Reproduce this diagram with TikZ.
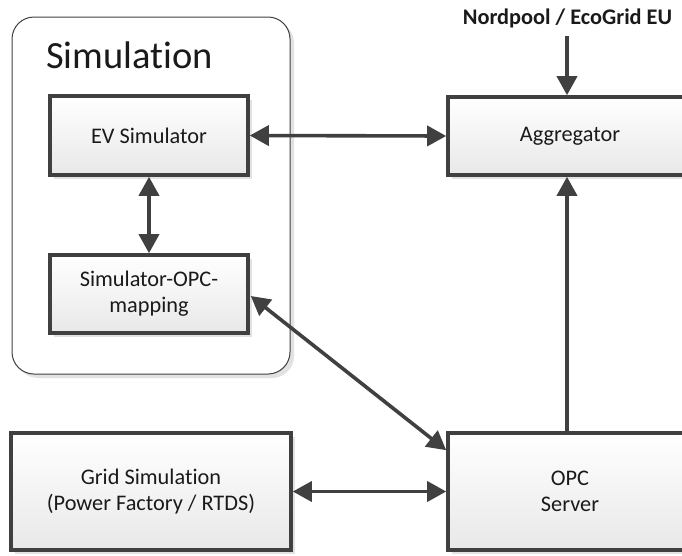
\documentclass[tikz,border=0pt]{standalone}
\usepackage{fontspec}
\setmainfont{Carlito}[Ligatures=NoCommon]
\usetikzlibrary{arrows.meta,shadows,calc}
\definecolor{edge}{HTML}{404040}
\definecolor{ink}{HTML}{1A1A1A}
\definecolor{shade}{HTML}{E2E2E2}
\tikzset{
  blk/.style={draw=edge, line width=3.6pt, rectangle, align=center,
    top color=white, bottom color=black!9, text=ink,
    font=\fontsize{22.3}{26}\selectfont, inner sep=0pt,
    drop shadow={shadow xshift=3.5pt, shadow yshift=-3.5pt, fill=shade, opacity=1}},
  tip/.tip={Triangle[length=19pt,width=20pt]},
  link/.style={draw=edge, line width=3.6pt, arrows={-tip}},
  dlink/.style={draw=edge, line width=3.6pt, arrows={tip-tip}},
}
\begin{document}
\begin{tikzpicture}[x=1pt,y=-1pt]
  \useasboundingbox (0,0) rectangle (682,555);
  % Simulation container
  \node[draw=edge, line width=1pt, rounded corners=22pt, fill=white,
        minimum width=278pt, minimum height=357pt, inner sep=0pt,
        drop shadow={shadow xshift=4pt, shadow yshift=-4pt, fill=shade, opacity=1}]
        (sim) at (151,195.5) {};
  \node[text=ink, font=\fontsize{38.5}{42}\selectfont, anchor=base west, inner sep=0pt] (title) at (46,68) {Simulation};
  % blocks
  \node[blk, minimum width=198pt, minimum height=79pt] (ev) at (149,135.5) {EV Simulator};
  \node[blk, minimum width=198pt, minimum height=78pt] (map) at (149,294) {Simulator-OPC-\\mapping};
  \node[blk, minimum width=244pt, minimum height=78pt] (agg) at (570,136) {Aggregator};
  \node[blk, minimum width=244pt, minimum height=117pt] (opc) at (570,491.5) {OPC\\Server};
  \node[blk, minimum width=280pt, minimum height=117pt] (grid) at (151,491.5) {Grid Simulation\\(Power Factory / RTDS)};
  % market feed
  \node[text=ink, font=\bfseries\fontsize{22.3}{26}\selectfont] (market) at (567.5,18) {Nordpool / EcoGrid EU};
  \coordinate (feed) at (567,36);
  \coordinate (opcin) at ($(opc.north west)+(0,19)$);
  % connectors
  \draw[link] (feed) -- (feed |- agg.north);
  \draw[dlink] (ev.east) -- (agg.west);
  \draw[dlink] (ev.south) -- (map.north);
  \draw[dlink] ($(map.east)+(1,2)$) -- (opcin);
  \draw[dlink] (grid.east) -- (opc.west);
  \draw[link] (opc.north -| feed) -- (agg.south -| feed);
\end{tikzpicture}
\end{document}
